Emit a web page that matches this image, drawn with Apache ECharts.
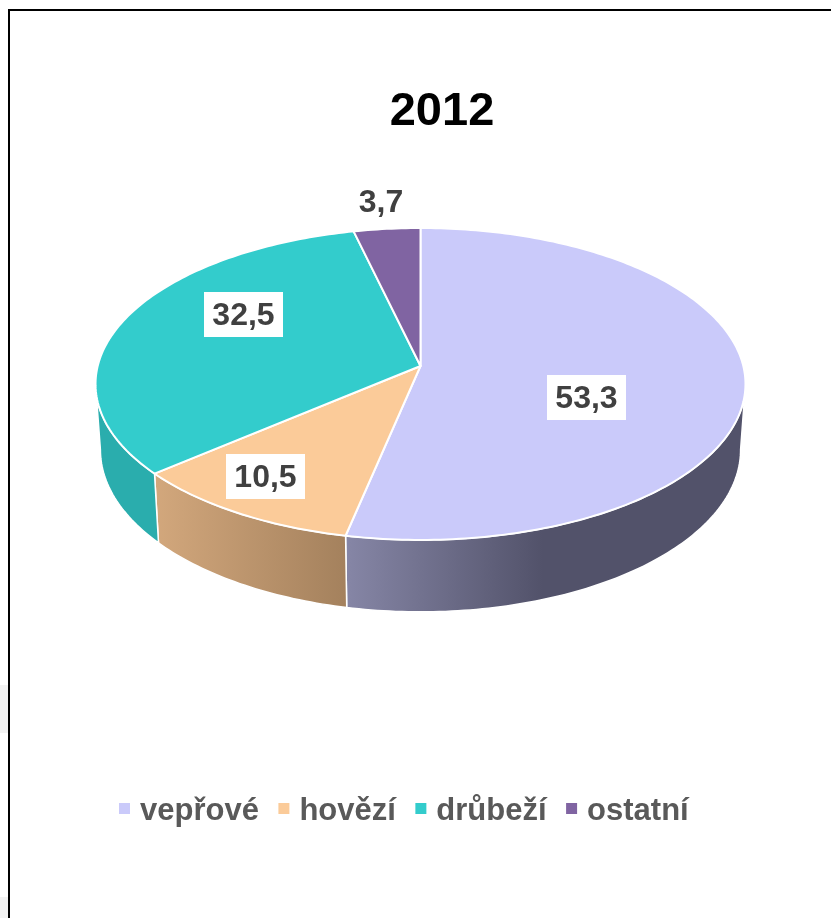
<!DOCTYPE html>
<html>
<head>
<meta charset="utf-8">
<title>2012</title>
<style>
    html, body { margin: 0; padding: 0; background: #fff; }
    #chart { width: 831px; height: 918px; }
</style>
<script src="https://cdn.jsdelivr.net/npm/echarts@6/dist/echarts.min.js"></script>
</head>
<body>
<div id="chart"></div>
<script>
const titleText = '2012';
const categories = ['vepřové', 'hovězí', 'drůbeží', 'ostatní'];
const shares = [53.3, 10.5, 32.5, 3.7];
const topColors = ['#CACAFA', '#FBCB99', '#33CCCC', '#8064A2'];

// barvy boční stěny, zleva doprava
const wallColors = [
    [[0, '#8686A6'], [0.5, '#52526A'], [1, '#52526A']],
    [[0, '#D2A77C'], [1, '#A4815D']],
    [[0, '#2AADAD'], [1, '#2AADAD']],
    [[0, '#66508A'], [1, '#66508A']]
];
const wallGradientX = [[346, 740], [157, 346], [100, 157], [354, 420]];

// středy popisků
const labelCenters = [[586.5, 397.5], [265.5, 476.5], [243.5, 314.5], [381, 201]];
const labelBoxed = [true, true, true, false];

// perspektiva koláče
const cx = 420.5, cy = 366;
const radiusX = 322.8, radiusY = 153.9, tilt = 0.1154;
const lowerScaleX = 0.985, lowerRadiusY = 160, lowerDrop = 65;

const rimPoint = (deg, lower) => {
    const a = deg * Math.PI / 180;
    const u = Math.sin(a), v = -Math.cos(a);
    const w = 1 - tilt * v;
    if (lower) {
        return [cx + lowerScaleX * radiusX * u / w, cy + lowerDrop + lowerRadiusY * v / w];
    }
    return [cx + radiusX * u / w, cy + radiusY * v / w];
};

const arcPoints = (from, to, lower) => {
    const pts = [];
    const n = Math.max(1, Math.ceil(Math.abs(to - from)));
    for (let i = 0; i <= n; i++) {
        pts.push(rimPoint(from + (to - from) * i / n, lower));
    }
    return pts;
};

const total = shares.reduce((a, b) => a + b, 0);
const sideFrom = Math.acos(-tilt) * 180 / Math.PI;
const sideTo = 360 - sideFrom;

const renderSlice = (params, api) => {
    const idx = params.seriesIndex;
    const value = api.value(0);
    const start = api.value(1) / total * 360;
    const end = start + value / total * 360;
    const children = [];

    // boční stěna, jen viditelná část
    const wallFrom = Math.max(start, sideFrom);
    const wallTo = Math.min(end, sideTo);
    if (wallTo > wallFrom) {
        const gx = wallGradientX[idx];
        children.push({
            type: 'polygon',
            shape: { points: arcPoints(wallFrom, wallTo, false).concat(arcPoints(wallTo, wallFrom, true)) },
            style: {
                fill: new echarts.graphic.LinearGradient(gx[0], 0, gx[1], 0,
                    wallColors[idx].map(s => ({ offset: s[0], color: s[1] })), true),
                stroke: '#fff',
                lineWidth: 1.5
            }
        });
    }

    // horní plocha
    children.push({
        type: 'polygon',
        shape: { points: [[cx, cy]].concat(arcPoints(start, end, false)) },
        style: { fill: topColors[idx], stroke: '#fff', lineWidth: 2, lineJoin: 'round' }
    });

    // popisek, bílý podklad zvlášť kvůli svislému zarovnání
    const center = labelCenters[idx];
    if (labelBoxed[idx]) {
        children.push({
            type: 'rect',
            z2: 90,
            shape: { x: center[0] - 39.5, y: center[1] - 22.5, width: 79, height: 45 },
            style: { fill: '#fff' }
        });
    }
    children.push({
        type: 'text',
        z2: 100,
        x: center[0],
        y: center[1] + 2,
        style: {
            text: String(value).replace('.', ','),
            font: 'bold 32px "Liberation Sans", Arial, sans-serif',
            fill: '#404040',
            align: 'center',
            verticalAlign: 'middle'
        }
    });
    return { type: 'group', children: children };
};

let running = 0;
const sliceSeries = categories.map((name, i) => {
    const s = {
        type: 'custom',
        name: name,
        coordinateSystem: 'none',
        renderItem: renderSlice,
        itemStyle: { color: topColors[i] },
        data: [[shares[i], running]],
        animation: false,
        silent: true
    };
    running += shares[i];
    return s;
});

const chart = echarts.init(document.getElementById('chart'));
chart.setOption({
    backgroundColor: '#fff',
    animation: false,
    title: {
        text: titleText,
        left: 437,
        top: 84,
        textAlign: 'center',
        textStyle: { fontFamily: '"Liberation Sans", Arial, sans-serif', fontSize: 47, fontWeight: 'bold', color: '#000' }
    },
    legend: {
        left: 119,
        top: 796,
        padding: 0,
        icon: 'rect',
        itemWidth: 11,
        itemHeight: 11,
        itemGap: 19.5,
        selectedMode: false,
        data: categories,
        formatter: '{a|{name}}',
        textStyle: {
            rich: {
                a: {
                    fontFamily: '"Liberation Sans", Arial, sans-serif',
                    fontSize: 31,
                    fontWeight: 'bold',
                    color: '#595959',
                    // horní odsazení posune text kousek pod značku
                    padding: [6, 0, 0, 5]
                }
            }
        }
    },
    series: sliceSeries,
    graphic: [
        // rám a šedé zbytky vlevo
        { type: 'rect', silent: true, shape: { x: 0, y: 685, width: 8, height: 48 }, style: { fill: '#F2F2F2' } },
        { type: 'rect', silent: true, shape: { x: 0, y: 897, width: 8, height: 21 }, style: { fill: '#F2F2F2' } },
        { type: 'polyline', silent: true, shape: { points: [[9, 918], [9, 10], [831, 10]] }, style: { stroke: '#000', lineWidth: 2, fill: null } }
    ]
});
</script>
</body>
</html>
